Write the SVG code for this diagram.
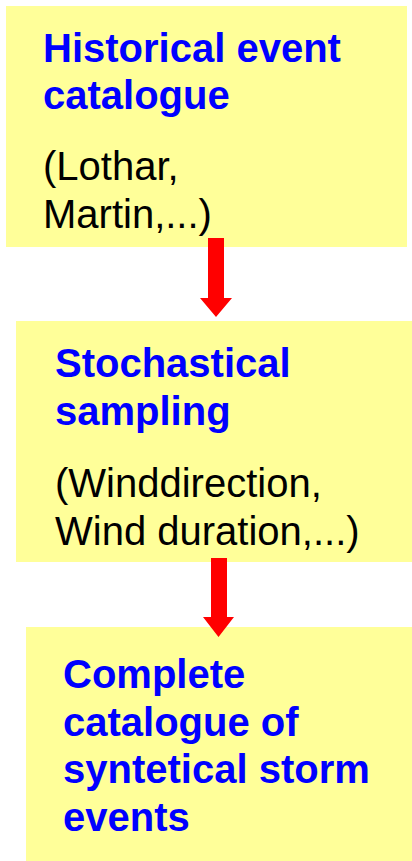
<svg xmlns="http://www.w3.org/2000/svg" width="412" height="861" viewBox="0 0 412 861">
<style>
.box{fill:#FFFF99}
.t{font-family:"Liberation Sans",Arial,sans-serif;font-size:40px}
.h{font-weight:bold;fill:#0000FF}
.n{fill:#000000}
.arr{fill:#FF0000}
</style>
<rect width="412" height="861" fill="#FFFFFF"/>
<g id="node1">
<rect class="box" x="6" y="6" width="401" height="241"/>
<text class="t h" x="43" y="62">Historical event</text>
<text class="t h" x="43" y="109">catalogue</text>
<text class="t n" x="43" y="180">(Lothar,</text>
<text class="t n" x="43" y="228">Martin,...)</text>
</g>
<g id="node2">
<rect class="box" x="16" y="321" width="396" height="241"/>
<text class="t h" x="55" y="377">Stochastical</text>
<text class="t h" x="55" y="425">sampling</text>
<text class="t n" x="55" y="497">(Winddirection,</text>
<text class="t n" x="55" y="545">Wind duration,...)</text>
</g>
<g id="node3">
<rect class="box" x="26" y="627" width="386" height="234"/>
<text class="t h" x="63" y="688">Complete</text>
<text class="t h" x="63" y="736">catalogue of</text>
<text class="t h" x="63" y="783">syntetical storm</text>
<text class="t h" x="63" y="831">events</text>
</g>
<g id="connectors">
<polygon class="arr" points="208,238 224,238 224,298 232,298 216,317 200,298 208,298"/>
<polygon class="arr" points="211,558 227,558 227,617 234,617 218.5,637 203,617 211,617"/>
</g>
</svg>
